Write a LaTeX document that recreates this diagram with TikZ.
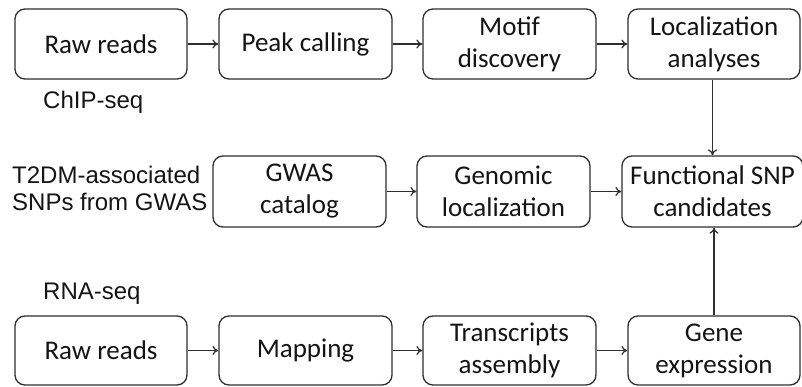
\documentclass[tikz,border=0pt]{standalone}
\usepackage{fontspec}
\setmainfont{Carlito}
\newfontfamily\labelfont{Liberation Sans}
\usetikzlibrary{arrows.meta}
\definecolor{linec}{HTML}{2E2E2E}
\definecolor{textc}{HTML}{141414}
\tikzset{
  stepbox/.style={draw=linec, line width=1.3pt, rounded corners=10pt, text=textc,
    font=\fontsize{27}{32}\selectfont, align=center, inner sep=0pt},
  conn/.style={draw=linec, line width=1.2pt, -{To[length=6pt,width=9pt]}},
  lbl/.style={text=textc, font=\labelfont\fontsize{24}{28}\selectfont, inner sep=0pt}
}
\begin{document}
\begin{tikzpicture}[x=1pt,y=-1pt]
\useasboundingbox (0,0) rectangle (802,387);
% row 1
\node[stepbox, minimum width=172pt, minimum height=70pt] (r1) at (101,44) {Raw reads};
\node[stepbox, minimum width=173pt, minimum height=70pt] (pc) at (305.5,44) {Peak calling};
\node[stepbox, minimum width=173pt, minimum height=70pt] (md) at (509.5,44) {Motif\\discovery};
\node[stepbox, minimum width=172pt, minimum height=70pt] (la) at (714,44) {Localization\\analyses};
% row 2
\node[stepbox, minimum width=173pt, minimum height=71pt] (gw) at (299.5,191.5) {GWAS\\catalog};
\node[stepbox, minimum width=173pt, minimum height=71pt] (gl) at (503.5,191.5) {Genomic\\localization};
\node[stepbox, minimum width=181pt, minimum height=71pt] (fs) at (712.5,191.5) {Functional SNP\\candidates};
% row 3
\node[stepbox, minimum width=172pt, minimum height=69pt] (r2) at (101,350.5) {Raw reads};
\node[stepbox, minimum width=173pt, minimum height=69pt] (mp) at (305.5,350.5) {Mapping};
\node[stepbox, minimum width=173pt, minimum height=69pt] (ta) at (509.5,350.5) {Transcripts\\assembly};
\node[stepbox, minimum width=172pt, minimum height=69pt] (ge) at (714,350.5) {Gene\\expression};
% labels
\node[lbl, anchor=base west] (chip) at (43,108.5) {ChIP-seq};
\node[lbl, anchor=base west] (rna) at (43,299.5) {RNA-seq};
\node[lbl, anchor=base west] (t2a) at (12,183.3) {T2DM-associated};
\node[lbl, anchor=base west] (t2b) at (12,211) {SNPs from GWAS};
% connectors
\draw[conn] (r1) -- (pc);
\draw[conn] (pc) -- (md);
\draw[conn] (md) -- (la);
\draw[conn] (gw) -- (gl);
\draw[conn] (gl) -- (fs);
\draw[conn] (r2) -- (mp);
\draw[conn] (mp) -- (ta);
\draw[conn] (ta) -- (ge);
\draw[conn] (la.south -| fs.north) -- (fs.north);
\draw[conn] (ge.north) -- (ge.north |- fs.south);
\end{tikzpicture}
\end{document}
